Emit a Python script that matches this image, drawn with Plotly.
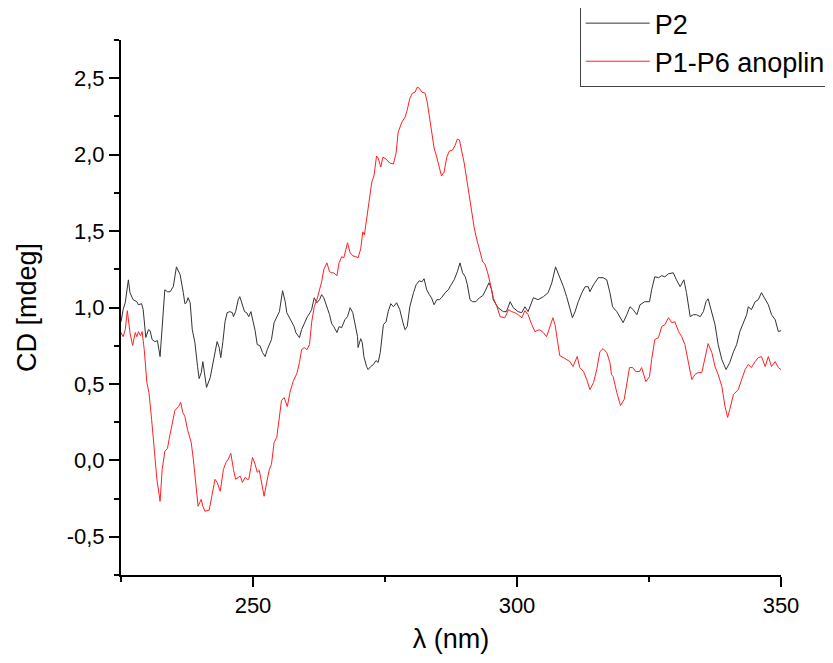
import plotly.graph_objects as go

# P2 (black)
p2_x = [225.0,225.4,225.8,226.4,226.7,227.3,228.0,228.3,228.9,229.2,229.7,230.2,230.5,230.9,231.4,231.9,232.4,232.7,233.0,233.3,
        233.8,234.3,234.9,235.5,236.2,236.5,236.8,237.1,237.4,237.7,238.1,238.5,239.0,239.5,239.8,240.2,240.5,240.8,241.2,241.9,
        242.4,242.8,243.2,243.6,243.9,244.3,244.7,245.1,245.6,246.1,246.3,246.7,247.2,247.5,248.0,248.4,248.8,249.2,249.6,250.1,
        250.4,250.8,251.3,251.8,252.3,252.7,253.1,253.5,254.0,254.5,255.0,255.6,256.1,256.4,256.9,257.3,257.8,258.1,258.8,259.2,
        259.8,260.3,260.8,261.1,261.6,262.1,262.6,263.0,263.4,264.0,264.5,264.9,265.3,265.9,266.3,266.8,267.4,267.9,268.4,268.9,
        269.3,269.8,269.9,270.4,270.7,271.0,271.5,271.8,272.3,272.8,273.3,273.7,274.1,274.4,274.7,275.2,275.6,276.1,276.6,277.2,
        277.8,278.4,278.8,279.2,279.7,280.4,280.9,281.5,282.0,282.4,282.9,283.4,283.8,284.3,284.8,285.3,285.7,286.4,287.0,287.4,
        288.1,288.7,289.2,289.7,290.2,290.6,291.1,291.6,292.2,292.9,293.5,293.9,294.6,294.7,295.2,295.5,296.4,297.4,298.0,298.7,
        299.3,300.2,300.9,301.5,302.1,303.1,304.0,305.0,305.9,306.6,307.3,308.1,308.8,309.4,309.9,310.5,311.0,311.6,312.3,312.9,
        313.5,313.8,314.5,315.4,316.3,317.0,317.6,318.1,318.9,319.5,320.1,320.8,321.4,322.0,322.7,323.3,324.2,325.1,325.5,326.1,
        326.8,327.4,328.0,328.7,329.6,330.2,330.9,331.6,332.1,332.8,333.4,334.0,334.7,335.3,335.8,336.2,336.9,337.5,338.1,338.8,
        339.6,340.3,341.0,341.6,342.2,342.9,343.5,343.8,344.4,345.1,345.7,346.3,347.0,347.6,348.2,348.9,349.5,350.0]
p2_y = [0.907,0.986,1.031,1.181,1.097,1.051,1.038,1.018,1.025,0.986,0.804,0.855,0.849,0.790,0.777,0.783,0.679,0.836,1.005,1.116,
        1.103,1.103,1.136,1.266,1.214,1.162,1.097,1.025,1.031,1.064,1.031,0.855,0.770,0.614,0.535,0.574,0.646,0.574,0.477,0.542,
        0.640,0.725,0.777,0.738,0.672,0.777,0.907,0.966,0.973,0.966,0.940,0.973,1.051,1.071,1.018,0.973,0.966,0.940,0.973,0.907,
        0.849,0.757,0.751,0.705,0.679,0.725,0.764,0.790,0.901,0.933,0.973,1.110,1.038,0.966,0.933,0.914,0.875,0.836,0.803,0.855,
        0.901,0.940,0.966,0.986,1.064,1.031,1.051,1.084,1.064,1.005,0.953,0.894,0.875,0.836,0.875,0.868,0.920,0.940,0.999,0.966,
        0.901,0.809,0.738,0.796,0.770,0.679,0.614,0.594,0.614,0.627,0.653,0.640,0.705,0.809,0.888,0.907,0.973,1.025,1.005,1.031,
        0.986,0.901,0.855,0.875,1.005,1.097,1.149,1.175,1.168,1.188,1.116,1.084,1.064,1.018,1.051,1.051,1.064,1.097,1.116,1.142,
        1.181,1.234,1.292,1.227,1.201,1.149,1.051,1.038,1.038,1.064,1.077,1.103,1.149,1.162,1.116,1.051,0.999,0.973,0.973,1.038,
        0.999,0.973,0.966,1.005,0.973,1.064,1.051,1.071,1.097,1.162,1.266,1.201,1.136,1.071,1.005,0.933,0.973,1.038,1.097,1.136,
        1.136,1.103,1.149,1.195,1.195,1.181,1.097,1.005,0.973,0.933,0.901,0.953,1.005,0.986,0.953,1.018,1.038,1.038,1.116,1.201,
        1.195,1.208,1.201,1.221,1.227,1.181,1.136,1.181,1.097,0.940,0.953,0.953,0.940,0.973,1.038,1.057,0.973,0.888,0.757,0.659,
        0.594,0.640,0.711,0.757,0.842,0.907,0.953,1.005,0.986,1.038,1.051,1.097,1.051,1.018,0.953,0.920,0.842,0.849]

# P1-P6 anoplin (red)
an_x = [225.0,225.4,225.8,226.2,226.7,227.2,227.7,228.0,228.3,228.7,229.0,229.4,229.9,230.3,230.8,231.3,231.8,232.4,232.8,233.3,
        233.8,234.1,234.6,235.2,235.9,236.3,236.7,237.1,237.6,238.3,238.7,239.1,239.6,240.2,240.5,240.9,241.7,242.2,242.8,243.2,
        243.8,244.4,244.9,245.3,245.8,246.3,246.7,247.2,247.6,248.0,248.5,248.9,249.2,249.6,249.9,250.4,250.8,251.2,251.6,252.1,
        252.6,253.1,253.5,254.0,254.5,255.0,255.4,255.9,256.5,257.0,257.6,258.3,258.8,259.2,259.7,260.2,260.7,261.1,261.6,262.1,
        262.6,263.0,263.4,264.0,264.5,264.9,265.3,265.9,266.3,266.8,267.2,267.9,268.4,268.9,269.5,269.9,270.4,270.8,271.1,271.5,
        272.0,272.5,272.9,273.4,273.7,274.2,274.6,275.2,275.9,276.6,277.1,277.5,278.2,278.8,279.2,279.7,280.2,280.7,281.1,281.5,
        282.0,282.6,283.0,283.4,283.8,284.3,284.8,285.3,285.7,286.2,286.7,287.2,287.8,288.3,288.7,289.1,289.5,290.0,290.5,291.0,
        291.4,291.9,292.4,293.0,293.5,293.9,294.4,294.9,295.5,296.2,296.8,297.7,298.4,299.0,299.6,300.2,300.9,301.5,302.1,302.8,
        303.4,304.2,305.0,305.6,306.2,306.8,307.2,307.6,308.1,309.1,310.0,310.6,311.4,311.9,312.6,313.2,313.8,314.5,315.1,315.7,
        316.3,317.0,317.6,317.9,318.2,318.9,319.6,320.3,320.8,321.3,321.9,322.5,323.2,323.6,324.4,325.1,325.5,326.1,326.8,327.4,
        328.0,328.7,329.3,329.9,330.6,331.2,331.8,332.4,333.1,333.7,334.3,335.0,335.6,336.2,336.9,337.5,338.1,338.8,339.4,339.9,
        340.3,341.0,341.9,342.6,343.2,343.8,344.4,345.1,345.7,346.3,347.0,347.6,348.2,348.9,349.5,350.0]
an_y = [0.836,0.809,0.855,0.979,0.836,0.751,0.836,0.809,0.842,0.816,0.842,0.725,0.509,0.444,0.268,0.072,-0.124,-0.268,-0.059,0.059,
        0.078,0.137,0.222,0.326,0.352,0.379,0.313,0.287,0.202,0.117,0.007,-0.144,-0.300,-0.255,-0.300,-0.333,-0.326,-0.235,-0.124,-0.144,
        -0.202,-0.059,-0.013,0.007,0.046,-0.059,-0.124,-0.111,-0.104,-0.144,-0.111,-0.124,-0.124,-0.046,0.020,-0.026,-0.078,-0.065,-0.144,-0.235,
        -0.144,-0.059,-0.026,0.117,0.150,0.287,0.392,0.411,0.352,0.444,0.516,0.568,0.640,0.725,0.738,0.725,0.757,0.901,1.005,1.051,
        1.116,1.168,1.247,1.292,1.234,1.227,1.227,1.208,1.292,1.332,1.325,1.423,1.358,1.338,1.332,1.325,1.384,1.495,1.475,1.573,
        1.704,1.821,1.860,1.991,1.978,1.919,1.984,1.971,1.945,1.939,2.010,2.148,2.213,2.245,2.291,2.369,2.402,2.409,2.441,2.435,
        2.409,2.402,2.343,2.245,2.141,2.043,1.984,1.913,1.860,1.886,1.984,2.024,2.030,2.063,2.102,2.095,2.030,1.945,1.834,1.723,
        1.619,1.521,1.443,1.364,1.299,1.286,1.234,1.162,1.064,1.005,0.940,0.933,0.986,0.973,0.966,0.953,0.933,0.979,0.953,0.888,
        0.842,0.855,0.836,0.809,0.875,0.933,0.888,0.790,0.685,0.666,0.646,0.614,0.679,0.607,0.581,0.529,0.463,0.509,0.594,0.711,
        0.731,0.705,0.640,0.561,0.548,0.444,0.359,0.398,0.509,0.607,0.607,0.581,0.581,0.607,0.516,0.548,0.659,0.790,0.803,0.875,
        0.888,0.933,0.901,0.907,0.842,0.809,0.757,0.640,0.529,0.561,0.574,0.574,0.679,0.764,0.705,0.614,0.561,0.483,0.352,0.281,
        0.333,0.431,0.463,0.542,0.594,0.627,0.607,0.646,0.672,0.679,0.614,0.679,0.614,0.646,0.607,0.594]

x_tick_vals = [250, 300, 350]
x_minor_vals = [225, 275, 325]
y_tick_vals = [-0.5, 0.0, 0.5, 1.0, 1.5, 2.0, 2.5]
y_tick_text = ["-0,5", "0,0", "0,5", "1,0", "1,5", "2,0", "2,5"]
y_minor_vals = [-0.75, -0.25, 0.25, 0.75, 1.25, 1.75, 2.25, 2.75]

FONT = "Arial, Liberation Sans, sans-serif"

fig = go.Figure()
fig.add_trace(go.Scatter(x=p2_x, y=p2_y, mode="lines", name="P2",
                         line=dict(color="#333333", width=1)))
fig.add_trace(go.Scatter(x=an_x, y=an_y, mode="lines", name="P1-P6 anoplin",
                         line=dict(color="#ff2020", width=1)))

fig.update_layout(
    width=833, height=663,
    paper_bgcolor="white", plot_bgcolor="white",
    margin=dict(l=113, r=60, t=32, b=96, autoexpand=False),
    font=dict(family=FONT, color="black"),
    showlegend=True,
    legend=dict(x=0.695, y=0.912, xanchor="left", yanchor="bottom",
                bgcolor="white", bordercolor="#444444", borderwidth=1,
                font=dict(size=27, family=FONT), itemwidth=64,
                tracegroupgap=0),
    xaxis=dict(range=[225, 350], showgrid=False, zeroline=False,
               showline=True, linecolor="black", linewidth=2,
               ticks="outside", ticklen=10, tickwidth=1.5, tickcolor="black",
               tickvals=x_tick_vals, ticktext=[str(v) for v in x_tick_vals],
               tickfont=dict(size=22, family=FONT),
               minor=dict(tickvals=x_minor_vals, ticks="outside", ticklen=5,
                          tickwidth=1.5, tickcolor="black"),
               title=dict(text="λ (nm)", font=dict(size=27, family=FONT), standoff=12)),
    yaxis=dict(range=[-0.75, 2.75], showgrid=False, zeroline=False,
               showline=True, linecolor="black", linewidth=2,
               ticks="outside", ticklen=10, tickwidth=1.5, tickcolor="black",
               tickvals=y_tick_vals, ticktext=y_tick_text,
               tickfont=dict(size=22, family=FONT),
               minor=dict(tickvals=y_minor_vals,
                          ticks="outside", ticklen=5, tickwidth=1.5, tickcolor="black"),
               title=dict(text="CD [mdeg]", font=dict(size=27, family=FONT), standoff=22)),
)

fig.write_html("out.html")
